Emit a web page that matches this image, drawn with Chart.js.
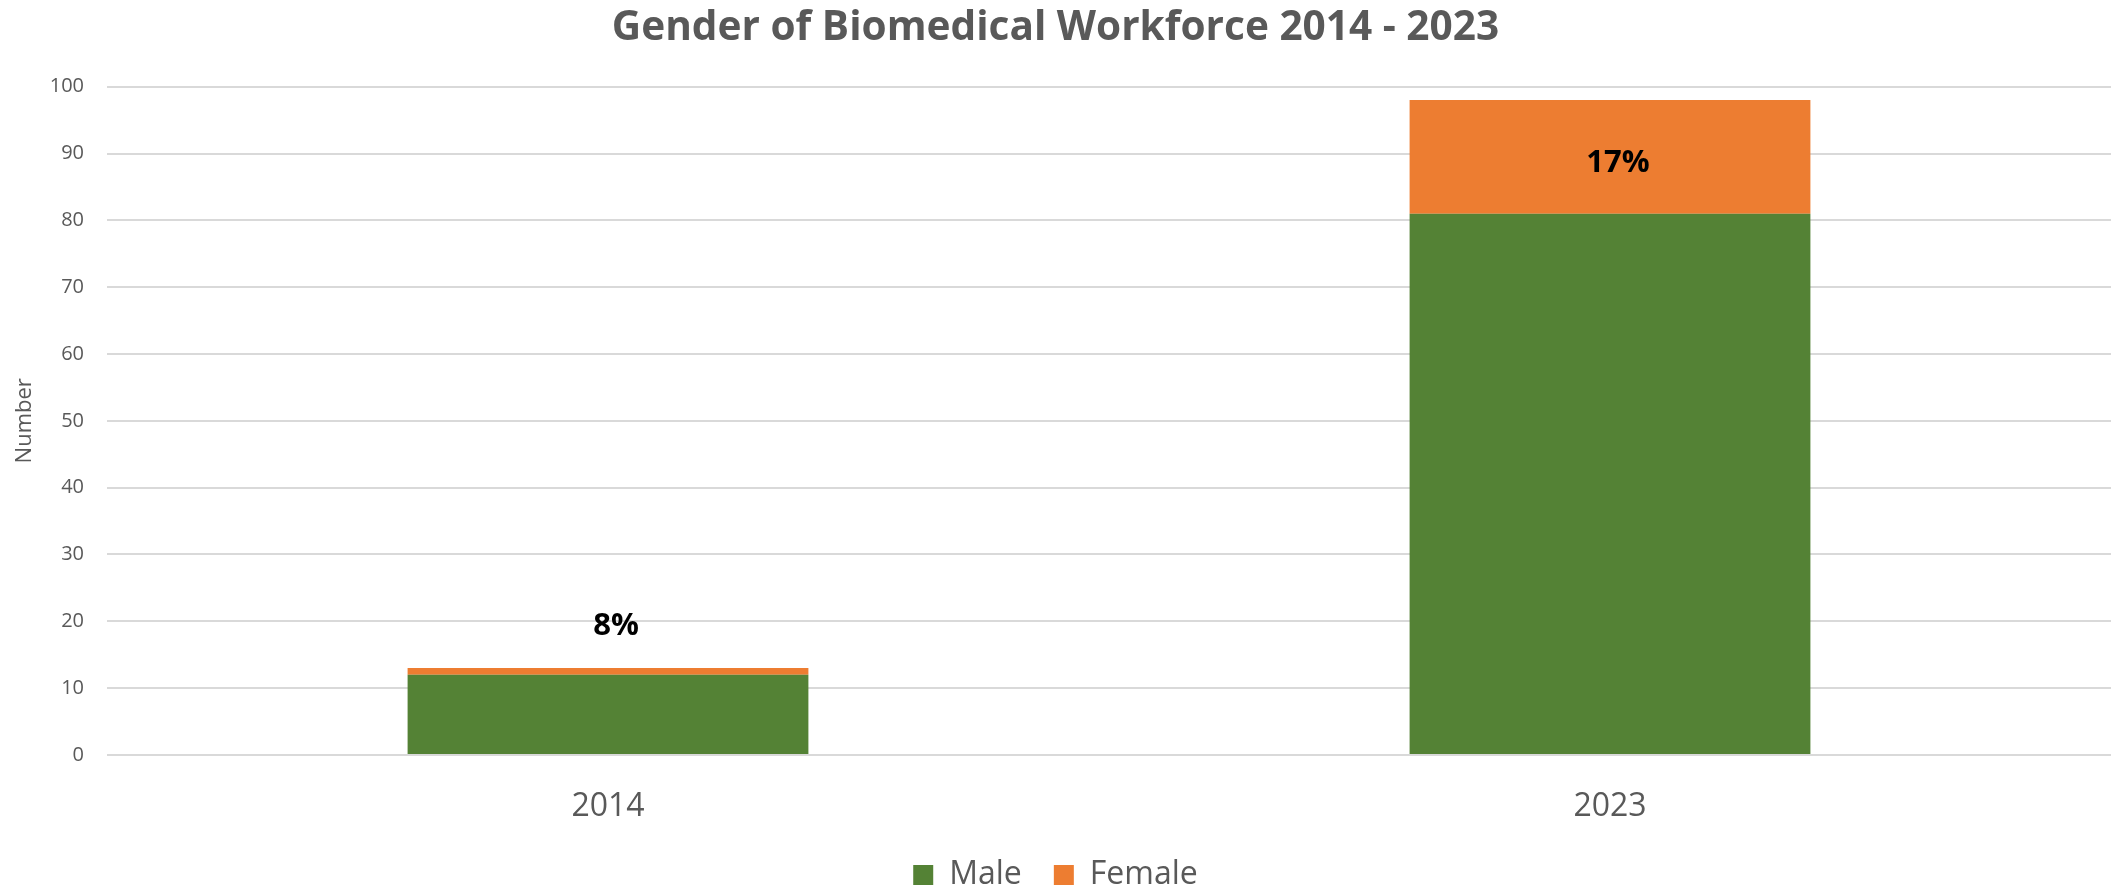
<!DOCTYPE html>
<html>
<head>
<meta charset="utf-8">
<script src="https://cdn.jsdelivr.net/npm/chart.js@4.4.0/dist/chart.umd.min.js"></script>
<style>
  html, body { margin: 0; padding: 0; background: #ffffff; }
  #wrap { width: 2111px; height: 888px; position: relative; }
</style>
</head>
<body>
<div id="wrap"><canvas id="c"></canvas></div>
<script>
const categories = ["2014", "2023"];
const maleValues = [12, 81];
const femaleValues = [1, 17];
const yTicks = [0, 10, 20, 30, 40, 50, 60, 70, 80, 90, 100];
const seriesNames = ["Male", "Female"];
const chartTitle = "Gender of Biomedical Workforce 2014 - 2023";
const yAxisTitle = "Number";

const pctLabels = {
  id: 'pctLabels',
  afterDatasetsDraw(chart) {
    const ctx = chart.ctx;
    const meta = chart.getDatasetMeta(1);
    ctx.save();
    ctx.font = "bold 31px 'Open Sans'";
    ctx.fillStyle = "#000000";
    ctx.textAlign = "center";
    ctx.textBaseline = "middle";
    meta.data.forEach((bar, i) => {
      const total = maleValues[i] + femaleValues[i];
      const pct = Math.round(femaleValues[i] / total * 100) + "%";
      const segH = bar.base - bar.y;
      let y;
      if (segH > 50) { y = (bar.y + bar.base) / 2 + 6; }
      else { y = bar.y - 42; }
      ctx.fillText(pct, bar.x + 8, y);
    });
    ctx.restore();
  }
};

new Chart(document.getElementById('c'), {
  type: 'bar',
  data: {
    labels: categories,
    datasets: [
      { label: seriesNames[0], data: maleValues, backgroundColor: '#548235', borderWidth: 0,
        barPercentage: 0.4, categoryPercentage: 1.0 },
      { label: seriesNames[1], data: femaleValues, backgroundColor: '#ED7D31', borderWidth: 0,
        barPercentage: 0.4, categoryPercentage: 1.0 }
    ]
  },
  options: {
    responsive: true,
    maintainAspectRatio: false,
    animation: false,
    layout: { padding: { top: 0, right: 0, bottom: -13, left: 0 } },
    plugins: {
      title: {
        display: true,
        text: chartTitle,
        color: '#595959',
        font: { family: "'Open Sans'", size: 40.6, weight: 'bold' },
        padding: { top: 4, bottom: 34 }
      },
      legend: {
        display: true,
        position: 'bottom',
        labels: {
          color: '#595959',
          font: { family: "'Open Sans'", size: 32 },
          boxWidth: 20,
          boxHeight: 20,
          padding: 32
        }
      },
      tooltip: { enabled: false }
    },
    scales: {
      x: {
        stacked: true,
        afterFit(scale) { scale.height = 72.1; },
        grid: { display: false, drawTicks: false },
        border: { display: false },
        ticks: {
          color: '#595959',
          font: { family: "'Open Sans'", size: 32 },
          padding: 33
        }
      },
      y: {
        stacked: true,
        min: 0,
        max: 100,
        afterBuildTicks(scale) { scale.ticks = yTicks.map(v => ({ value: v })); },
        afterFit(scale) { scale.width = 107; },
        grid: { color: '#d9d9d9', lineWidth: 2, drawTicks: false },
        border: { display: false },
        ticks: {
          color: '#595959',
          font: { family: "'Open Sans'", size: 20 },
          padding: 23
        },
        title: {
          display: true,
          text: yAxisTitle,
          color: '#595959',
          font: { family: "'Open Sans'", size: 22 },
          padding: { top: 12, bottom: 0 }
        }
      }
    }
  },
  plugins: [pctLabels]
});
</script>
</body>
</html>
